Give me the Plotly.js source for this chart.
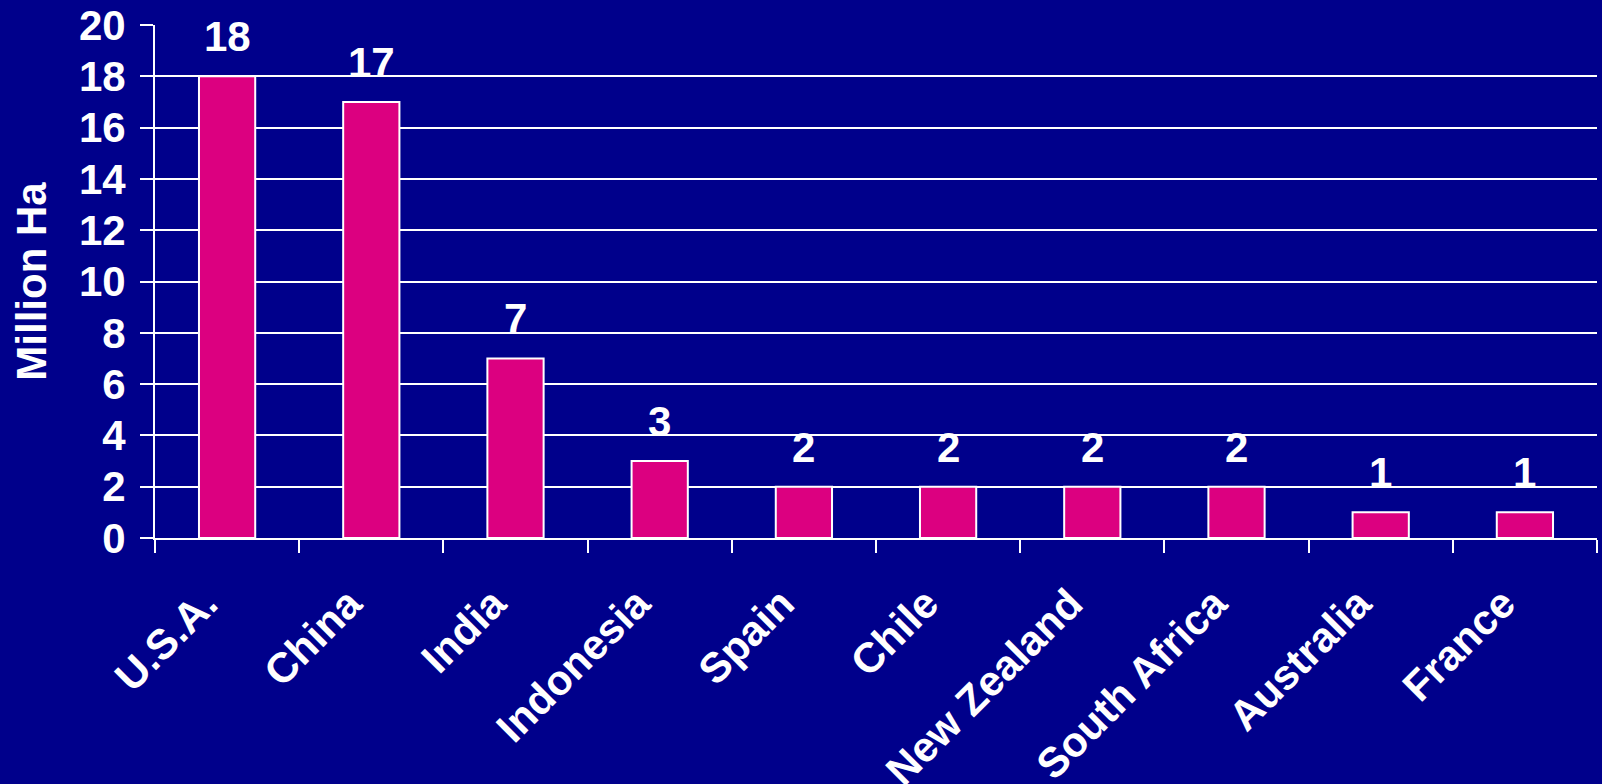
<!DOCTYPE html>
<html>
<head>
<meta charset="utf-8">
<script src="https://cdn.plot.ly/plotly-3.0.1.min.js"></script>
<style>html,body{margin:0;padding:0;background:#00008B;}#chart{width:1602px;height:784px;}</style>
</head>
<body>
<div id="chart"></div>
<script>
const countries = ["U.S.A.", "China", "India", "Indonesia", "Spain", "Chile", "New Zealand", "South Africa", "Australia", "France"];
const millionHa = [18, 17, 7, 3, 2, 2, 2, 2, 1, 1];
const yTicks = [0, 2, 4, 6, 8, 10, 12, 14, 16, 18, 20];

const bg = "#00008B";
const fam = "Liberation Sans, Arial, sans-serif";
const fontBase = {family: fam, color: "#ffffff", size: 42, weight: "bold"};

const trace = {
  type: "bar",
  x: countries,
  y: millionHa,
  width: 0.39,
  marker: {color: "#DC0080", line: {color: "#ffffff", width: 2}},
  hoverinfo: "skip"
};

const annotations = countries.map((c, i) => ({
  x: c, y: millionHa[i], xref: "x", yref: "y",
  text: String(millionHa[i]), showarrow: false,
  yanchor: "bottom", yshift: 14,
  font: fontBase
}));

const layout = {
  width: 1602, height: 784,
  paper_bgcolor: bg, plot_bgcolor: bg,
  margin: {l: 155, r: 5, t: 25, b: 246},
  showlegend: false,
  font: fontBase,
  xaxis: {
    type: "category",
    showline: true, linecolor: "#ffffff", linewidth: 2,
    ticks: "outside", ticklen: 13, tickwidth: 2, tickcolor: "#ffffff",
    tickson: "boundaries",
    tickangle: -45,
    ticklabelstandoff: 22,
    ticklabelshift: -22,
    tickfont: fontBase,
    showgrid: false, zeroline: false
  },
  yaxis: {
    range: [0, 20],
    tickvals: yTicks,
    showline: true, linecolor: "#ffffff", linewidth: 2,
    ticks: "outside", ticklen: 13, tickwidth: 2, tickcolor: "#ffffff",
    ticklabelstandoff: 6,
    showgrid: true, gridcolor: "#ffffff", gridwidth: 2,
    zeroline: false,
    tickfont: fontBase,
    title: {text: "Million Ha", font: {family: fam, color: "#ffffff", size: 42, weight: "bold"}, standoff: 19}
  },
  annotations: annotations
};

Plotly.newPlot("chart", [trace], layout, {staticPlot: true, displayModeBar: false});
</script>
</body>
</html>
